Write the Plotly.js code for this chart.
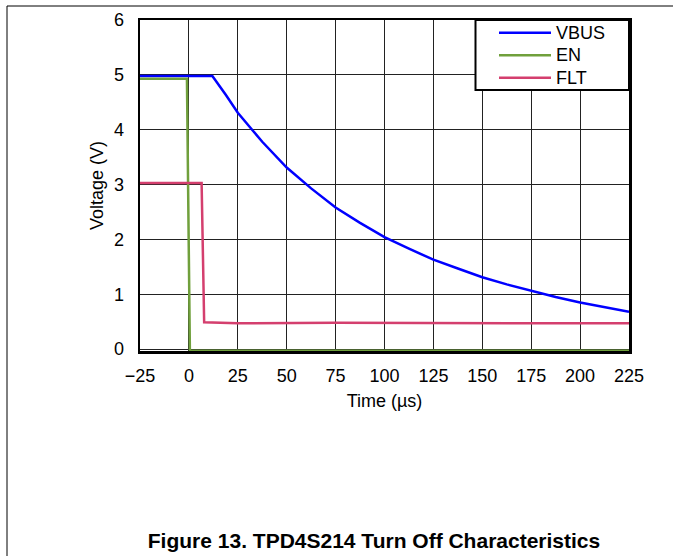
<!DOCTYPE html>
<html>
<head>
<meta charset="utf-8">
<script src="https://cdn.plot.ly/plotly-3.0.1.min.js"></script>
<style>
html,body{margin:0;padding:0;background:#fff;}
#chart{width:673px;height:556px;}
</style>
</head>
<body>
<div id="chart"></div>
<script>
// Time (µs) and voltage (V)
const vbusTime = [-25, 0, 12, 18.75, 25, 37.5, 50, 62.5, 75, 87.5, 100, 112.5, 125, 137.5, 150, 162.5, 175, 187.5, 200, 212.5, 225];
const vbusVolt = [4.98, 4.98, 4.98, 4.64, 4.31, 3.78, 3.31, 2.93, 2.58, 2.30, 2.04, 1.83, 1.63, 1.47, 1.31, 1.18, 1.06, 0.95, 0.85, 0.76, 0.68];

const enTime = [-25, -1, 0.5, 225];
const enVolt = [4.93, 4.93, -0.03, -0.03];

const fltTime = [-25, 6.5, 7.8, 25, 75, 125, 175, 225];
const fltVolt = [3.03, 3.03, 0.49, 0.47, 0.48, 0.47, 0.47, 0.47];

const xTicks = [-25, 0, 25, 50, 75, 100, 125, 150, 175, 200, 225];
const yTicks = [0, 1, 2, 3, 4, 5, 6];

const seriesNames = ['VBUS', 'EN', 'FLT'];
const seriesColors = ['#0000FF', '#70A03C', '#D43F6E'];

const FONT = 'Arial, "Liberation Sans", sans-serif';

// plot area in pixels (used only to place the legend box / frame in paper units)
const PL = 140, PR = 629, PT = 20, PB = 351;
const px2x = p => (p - PL) / (PR - PL);
const px2y = p => (PB - p) / (PB - PT);

const traces = [
  {x: vbusTime, y: vbusVolt, name: seriesNames[0], mode: 'lines', line: {color: seriesColors[0], width: 2.5}, showlegend: false},
  {x: enTime, y: enVolt, name: seriesNames[1], mode: 'lines', line: {color: seriesColors[1], width: 2.5}, showlegend: false},
  {x: fltTime, y: fltVolt, name: seriesNames[2], mode: 'lines', line: {color: seriesColors[2], width: 2.5}, showlegend: false}
];

// custom legend (box, line samples, labels)
const legendRows = [32.7, 55.2, 77.8];
const shapes = [
  {type: 'line', xref: 'paper', yref: 'paper', x0: px2x(7), x1: px2x(673), y0: px2y(6), y1: px2y(6), line: {color: '#000', width: 1}},
  {type: 'line', xref: 'paper', yref: 'paper', x0: px2x(7), x1: px2x(7), y0: px2y(6), y1: px2y(560), line: {color: '#000', width: 1}},
  {type: 'rect', xref: 'paper', yref: 'paper', x0: px2x(475.5), x1: 1, y0: px2y(90), y1: 1, fillcolor: '#fff', line: {color: '#000', width: 2}, layer: 'above'}
];
const annotations = [];
seriesNames.forEach((n, i) => {
  shapes.push({type: 'line', xref: 'paper', yref: 'paper', x0: px2x(499), x1: px2x(551), y0: px2y(legendRows[i]), y1: px2y(legendRows[i]), line: {color: seriesColors[i], width: 2.5}, layer: 'above'});
  annotations.push({xref: 'paper', yref: 'paper', x: px2x(554), y: px2y(legendRows[i]), xanchor: 'left', yanchor: 'middle', text: n, showarrow: false, font: {family: FONT, size: 18, color: '#000'}});
});

const layout = {
  width: 673, height: 556,
  margin: {l: PL, r: 673 - PR, t: PT, b: 556 - PB},
  paper_bgcolor: '#fff', plot_bgcolor: '#fff',
  font: {family: FONT, size: 18, color: '#000'},
  showlegend: false,
  title: {
    text: '<b>Figure 13. TPD4S214 Turn Off Characteristics</b>',
    font: {family: FONT, size: 21, color: '#000'},
    xref: 'paper', x: px2x(374), xanchor: 'center',
    yref: 'container', y: 1 - 541 / 556, yanchor: 'middle'
  },
  xaxis: {
    range: [-25, 225], tickvals: xTicks, ticktext: xTicks.map(v => v < 0 ? '\u2212' + Math.abs(v) : String(v)),
    showgrid: true, gridcolor: '#222', gridwidth: 1, zeroline: false,
    showline: true, linecolor: '#000', linewidth: 2.5, mirror: true,
    ticks: 'outside', ticklen: 7, tickcolor: 'rgba(0,0,0,0)',
    tickfont: {family: FONT, size: 18},
    title: {text: 'Time (µs)', font: {family: FONT, size: 18}, standoff: 10},
    layer: 'below traces'
  },
  yaxis: {
    range: [-0.035, 6], tickvals: yTicks,
    showgrid: true, gridcolor: '#222', gridwidth: 1, zeroline: false,
    showline: true, linecolor: '#000', linewidth: 2.5, mirror: true,
    ticks: 'outside', ticklen: 10, tickcolor: 'rgba(0,0,0,0)',
    tickfont: {family: FONT, size: 18},
    title: {text: 'Voltage (V)', font: {family: FONT, size: 18}, standoff: 6},
    layer: 'below traces'
  },
  shapes: shapes,
  annotations: annotations
};

Plotly.newPlot('chart', traces, layout, {displayModeBar: false, staticPlot: true});
</script>
</body>
</html>
